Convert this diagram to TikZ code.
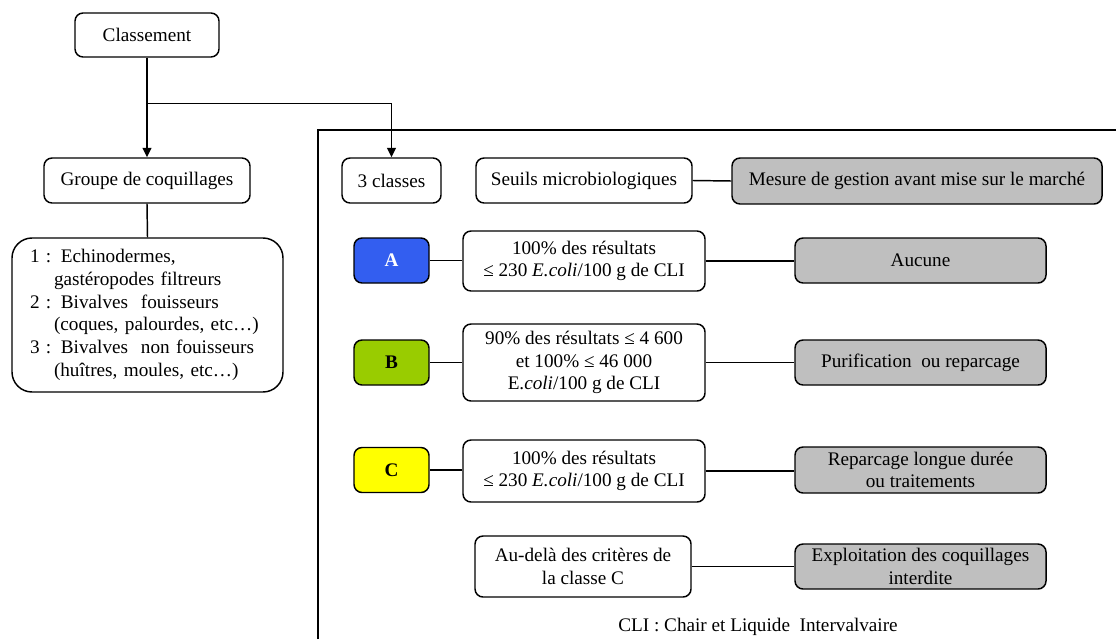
\documentclass[tikz,border=0pt]{standalone}
\usepackage{fontspec}
\setmainfont{Liberation Serif}
\usetikzlibrary{arrows.meta}
\definecolor{cA}{RGB}{51,94,240}
\definecolor{cB}{RGB}{153,204,0}
\definecolor{cC}{RGB}{255,255,0}
\definecolor{cG}{RGB}{191,191,191}
\begin{document}
\begin{tikzpicture}[x=0.75pt,y=-0.75pt,
  box/.style={draw, rounded corners=6pt, line width=1.1pt, align=center, inner sep=0pt,
    font=\fontsize{14.4}{17}\selectfont},
  graybox/.style={box, fill=cG},
  classbox/.style={box, font=\fontsize{14.4}{17}\selectfont\bfseries, minimum width=56.25pt, minimum height=33.75pt},
  conn/.style={line width=1.1pt},
  arrow/.style={line width=1.1pt, -{Triangle[length=7pt,width=6.5pt]}}]
\useasboundingbox (0,0) rectangle (1116,639);

% left column
\node[box, minimum width=108pt, minimum height=33pt] (cls) at (147,35) {Classement};
\node[box, minimum width=154.5pt, minimum height=33.75pt] (grp) at (147,180.5) {Groupe de coquillages};
\node[box, rounded corners=15pt, minimum width=203.25pt, minimum height=115.5pt,
      align=left, inner xsep=13.5pt, text width=176.25pt] (lst) at (147.5,315)
  {1 : Echinodermes,\\
   \hspace*{18pt}gastéropodes filtreurs\\
   2 : Bivalves\ \ fouisseurs\\
   \hspace*{18pt}(coques, palourdes, etc…)\\
   3 : Bivalves\ \ non fouisseurs\\
   \hspace*{18pt}(huîtres, moules, etc…)};

% frame
\coordinate (f1) at (318,639);
\coordinate (f2) at (318,130);
\coordinate (f3) at (1116,130);
\draw[line width=1.1pt] (f1) -- (f2) -- (f3);

% header row
\node[box, minimum width=74.25pt, minimum height=33.75pt] (c3) at (391.5,180.5) {3 classes};
\node[box, minimum width=162pt, minimum height=33.75pt] (seu) at (584,180.5) {Seuils microbiologiques};
\node[graybox, minimum width=277.5pt, minimum height=34.5pt] (mes) at (917,181) {Mesure de gestion avant mise sur le marché};

% class A
\node[classbox, fill=cA, text=white] (A) at (391.5,260.5) {A};
\node[box, minimum width=181.5pt, minimum height=45pt] (Acr) at (584,261)
  {100\% des résultats\\≤ 230 \textit{E.coli}/100 g de CLI};
\node[graybox, minimum width=188.25pt, minimum height=33.75pt] (Ames) at (920.5,260.5) {Aucune};

% class B
\node[classbox, fill=cB] (B) at (391.5,362.5) {B};
\node[box, minimum width=181.5pt, minimum height=57.75pt] (Bcr) at (584,362.5)
  {90\% des résultats ≤ 4 600\\et 100\% ≤ 46 000\\E.\textit{coli}/100 g de CLI};
\node[graybox, minimum width=188.25pt, minimum height=33.75pt] (Bmes) at (920.5,362.5) {Purification\ \ ou reparcage};

% class C
\node[classbox, fill=cC] (C) at (391.5,470) {C};
\node[box, minimum width=181.5pt, minimum height=46.5pt] (Ccr) at (584,471)
  {100\% des résultats\\≤ 230 \textit{E.coli}/100 g de CLI};
\node[graybox, minimum width=188.25pt, minimum height=34.5pt] (Cmes) at (920.5,470)
  {Reparcage longue durée\\ou traitements};

% beyond C
\node[box, minimum width=162pt, minimum height=45.75pt] (Dcr) at (583,566.5)
  {Au-delà des critères de\\la classe C};
\node[graybox, minimum width=188.25pt, minimum height=33.75pt] (Dmes) at (920.5,566.5)
  {Exploitation des coquillages\\interdite};

\node[font=\fontsize{14.4}{17}\selectfont, inner sep=0pt] (cli) at (758,627) {CLI : Chair et Liquide\ \ Intervalvaire};

% connectors
\coordinate (j) at (147,103.5);
\draw[arrow] (cls.south) -- (grp.north);
\draw[arrow] (j) -| (c3.north);
\draw[conn] (grp.south) -- (lst.north);
\draw[conn] (seu.east) -- (mes.west);
\draw[conn] (A.east) -- (A.east -| Acr.west);
\draw[conn] (Acr.east) -- (Acr.east -| Ames.west);
\draw[conn] (B.east) -- (B.east -| Bcr.west);
\draw[conn] (Bcr.east) -- (Bcr.east -| Bmes.west);
\draw[conn] (C.east) -- (C.east -| Ccr.west);
\draw[conn] (Ccr.east) -- (Ccr.east -| Cmes.west);
\draw[conn] (Dcr.east) -- (Dcr.east -| Dmes.west);
\end{tikzpicture}
\end{document}
